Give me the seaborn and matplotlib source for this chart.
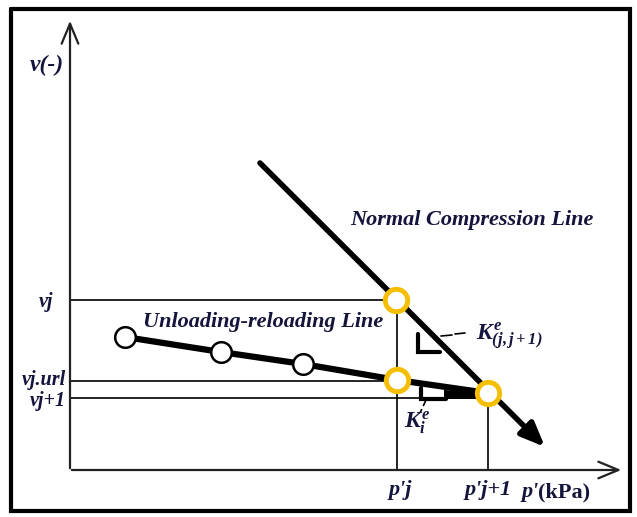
import matplotlib
matplotlib.use("Agg")
import matplotlib.pyplot as plt
import seaborn as sns
import pandas as pd

# Schematic coordinates (image-like units: p' to the right, v downward on screen)
ncl_p = [260, 545]
ncl_v = [163, 447]
url_p = [125, 221, 303, 397, 488]
url_v = [337, 352, 364, 380, 393]
white_p = [125, 221, 303]
white_v = [337, 352, 364]
yellow_p = [396, 397, 488]
yellow_v = [300, 380, 393]
v_levels = [300, 381, 398]
v_labels = ["vj", "vj.url", "vj+1"]
v_ends = [396, 397, 488]
p_levels = [397, 488]
p_tops = [300, 393]
p_labels = ["p'j", "p'j+1"]

sns.set_theme(style="white")
plt.rcParams['font.family'] = ['Liberation Serif', 'DejaVu Serif']
plt.rcParams['mathtext.fontset'] = 'custom'
plt.rcParams['mathtext.rm'] = 'Liberation Serif:bold:italic'
plt.rcParams['mathtext.it'] = 'Liberation Serif:bold:italic'
plt.rcParams['mathtext.bf'] = 'Liberation Serif:bold:italic'
ink = "#14143c"

fig = plt.figure(figsize=(6.37, 5.17), dpi=100)
ax = fig.add_axes([0, 0, 1, 1])
ax.set_xlim(0, 637)
ax.set_ylim(517, 0)
ax.axis("off")

# outer frame
ax.plot([11, 630, 630, 11, 11], [9, 9, 511, 511, 9], color="black", lw=3, solid_joinstyle="miter")

# axes arrows
ax.annotate("", xy=(70, 18), xytext=(70, 471),
            arrowprops=dict(arrowstyle="->,head_length=1.2,head_width=0.5", lw=1.6, color="#222"))
ax.annotate("", xy=(624, 470), xytext=(69, 470),
            arrowprops=dict(arrowstyle="->,head_length=1.2,head_width=0.5", lw=1.6, color="#222"))

# guide lines
for v, e in zip(v_levels, v_ends):
    ax.plot([70, e], [v, v], color="black", lw=1.2)
for p, t in zip(p_levels, p_tops):
    ax.plot([p, p], [t, 470], color="black", lw=1.2)

# NCL
ax.annotate("", xy=(ncl_p[1], ncl_v[1]), xytext=(ncl_p[0], ncl_v[0]),
            arrowprops=dict(arrowstyle="-|>,head_length=1.2,head_width=0.5", lw=4, color="black",
                            shrinkA=0, shrinkB=0))

# URL
df_url = pd.DataFrame({"p": url_p, "v": url_v})
sns.lineplot(data=df_url, x="p", y="v", ax=ax, color="black", lw=4.5, sort=False)

# triangles
ax.plot([418, 418, 440], [334, 352, 352], color="black", lw=3, solid_joinstyle="miter")
ax.plot([421, 421, 446], [388, 399, 399], color="black", lw=3, solid_joinstyle="miter")
ax.fill([444, 488, 488, 444], [390, 393, 399, 399], color="black", lw=0)
ax.plot([441, 452], [336, 335], color="black", lw=1.2)
ax.plot([455, 465], [334, 333], color="black", lw=1.2)
ax.plot([426, 420], [400, 413], color="black", lw=1.2, ls=(0, (4, 2)))

# markers
sns.scatterplot(x=white_p, y=white_v, ax=ax, s=220, color="white", edgecolor="black", linewidth=1.8, zorder=5)
sns.scatterplot(x=yellow_p, y=yellow_v, ax=ax, s=260, color="white", edgecolor="#F5BE00", linewidth=3.5, zorder=5)

fs = 16
tkw = dict(color=ink, fontweight="bold", fontstyle="italic")
ax.text(47, 65, "v(-)", fontsize=17, ha="center", va="center", **tkw)
v_ys = [302, 380, 401]
v_xs = [53, 66, 66]
for x, y, lab in zip(v_xs, v_ys, v_labels):
    ax.text(x, y, lab, fontsize=14.5, ha="right", va="center", **tkw)
ax.text(400, 490, p_labels[0], fontsize=fs, ha="center", va="center", **tkw)
ax.text(488, 490, p_labels[1], fontsize=fs, ha="center", va="center", **tkw)
ax.text(522, 492, "p'", fontsize=fs, ha="left", va="center", **tkw)
ax.text(538, 492, "(kPa)", fontsize=fs, ha="left", va="center", color=ink, fontweight="bold")
ax.text(476, 336, r"$K^{e}_{(j,j+1)}$", fontsize=17, ha="left", va="center", color=ink)
ax.text(404, 423, r"$K^{e}_{i}$", fontsize=17, ha="left", va="center", color=ink)
ax.text(143, 322, "Unloading-reloading Line", fontsize=fs, ha="left", va="center", **tkw)
ax.text(350, 220, "Normal Compression Line", fontsize=fs, ha="left", va="center", **tkw)

fig.savefig("out.png", dpi=100)
